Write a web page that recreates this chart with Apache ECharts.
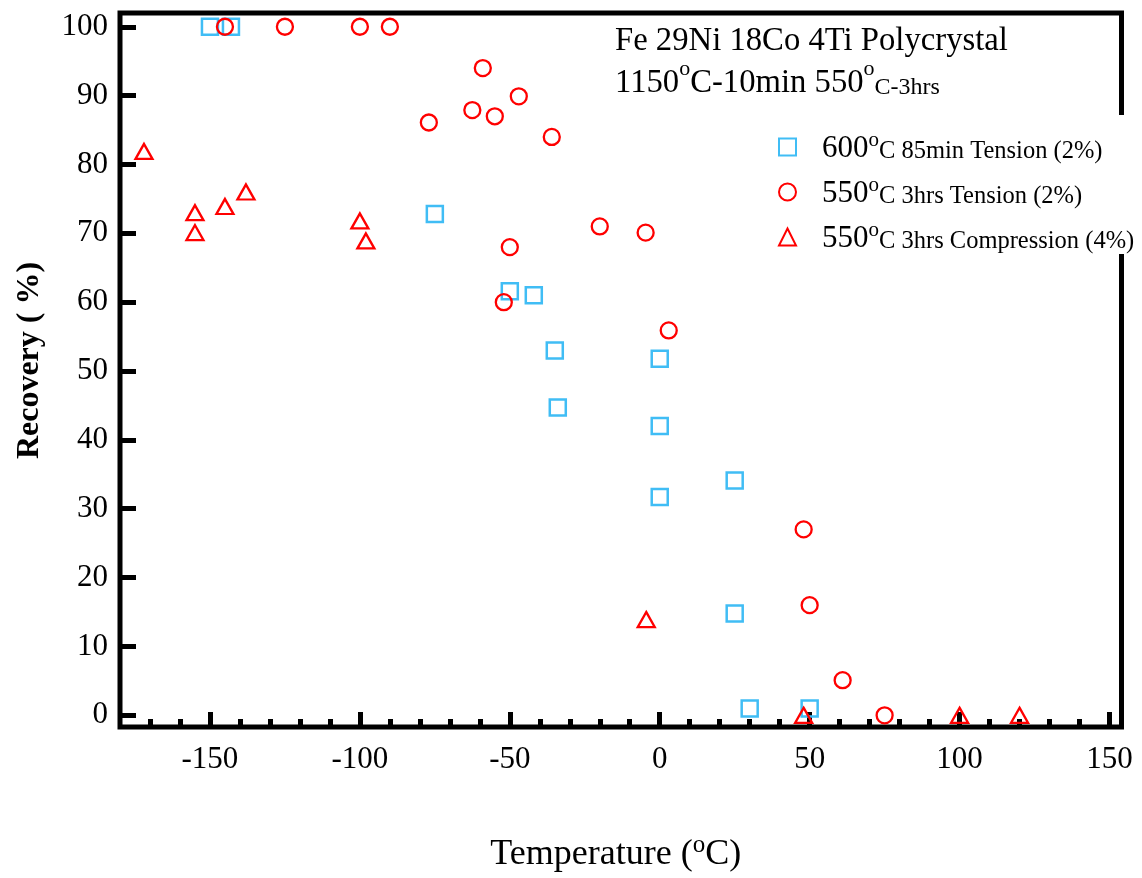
<!DOCTYPE html>
<html>
<head>
<meta charset="utf-8">
<script src="https://cdn.jsdelivr.net/npm/echarts@6/dist/echarts.min.js"></script>
<style>
  html, body { margin: 0; padding: 0; background: #fff; }
  #main { width: 1142px; height: 878px; }
</style>
</head>
<body>
<div id="main"></div>
<script>
// 600C 85min tension (squares)
var sqTemp = [-150, -143, -75, -50, -42, -35, -34, 0, 0, 0, 25, 25, 30, 50];
var sqRec  = [100, 100, 72.8, 61.6, 61, 53, 44.7, 51.8, 42, 31.7, 34.1, 14.8, 1, 1];
// 550C 3hrs tension (circles)
var ciTemp = [-145, -125, -100, -90, -59, -47, -62.5, -55, -77, -36, -20, -4.7, -50, -52, 3, 48, 50, 61, 75];
var ciRec  = [100, 100, 100, 100, 94, 89.9, 87.9, 87, 86.1, 84, 71, 70.1, 68, 60, 55.9, 27, 16, 5.1, 0];
// 550C 3hrs compression (triangles)
var trTemp = [-172, -155, -155, -145, -138, -100, -98, -4.5, 48, 100, 120];
var trRec  = [81.9, 73, 70.1, 73.9, 76, 71.8, 68.9, 13.9, 0, 0, 0];

var xMajor = [-150, -100, -50, 0, 50, 100, 150];
var xMinor = [-170, -160, -140, -130, -120, -110, -90, -80, -70, -60, -40, -30, -20, -10,
              10, 20, 30, 40, 60, 70, 80, 90, 110, 120, 130, 140];
var yTicks = [0, 10, 20, 30, 40, 50, 60, 70, 80, 90, 100];

// legend label parts: big number, small rest
var legendNum  = ['600', '550', '550'];
var legendRest = ['C 85min Tension (2%)', 'C 3hrs Tension (2%)', 'C 3hrs Compression (4%)'];
var seriesNames = ['s600t', 's550t', 's550c'];

function pairs(xs, ys) {
    var out = [];
    for (var i = 0; i < xs.length; i++) out.push([xs[i], ys[i]]);
    return out;
}

var serif = 'Liberation Serif';
var blue = '#40bdf5';
var red = '#ff0000';

var chart = echarts.init(document.getElementById('main'));
var option = {
    backgroundColor: '#fff',
    animation: false,
    textStyle: { fontFamily: serif, color: '#000' },
    grid: {
        left: 120, right: 20.5, top: 13, bottom: 148,
        show: true, borderColor: '#000', borderWidth: 5, backgroundColor: 'transparent'
    },
    title: {
        left: 615, top: 16, padding: 0,
        text: '{a|Fe 29Ni 18Co 4Ti Polycrystal}\n{a|1150}{s|o}{a|C-10min 550}{s|o}{b|C-3hrs}',
        textStyle: {
            fontFamily: serif, fontWeight: 'normal', color: '#000',
            rich: {
                a: { fontFamily: serif, fontSize: 32.7, lineHeight: 42, verticalAlign: 'bottom', color: '#000' },
                s: { fontFamily: serif, fontSize: 22, lineHeight: 20, verticalAlign: 'top', color: '#000' },
                b: { fontFamily: serif, fontSize: 24, lineHeight: 36.6, verticalAlign: 'bottom', color: '#000' }
            }
        }
    },
    legend: {
        orient: 'vertical',
        left: 774, top: 115,
        padding: [15, 4, 0, 4],
        backgroundColor: '#fff',
        itemWidth: 17, itemHeight: 17, itemGap: 11,
        data: seriesNames,
        formatter: function (name) {
            var i = seriesNames.indexOf(name);
            return '{g| }{n|' + legendNum[i] + '}{s|o}{t|' + legendRest[i] + '}';
        },
        textStyle: {
            fontFamily: serif, color: '#000',
            rich: {
                g: { width: 21, fontSize: 10, lineHeight: 34 },
                n: { fontFamily: serif, fontSize: 31, lineHeight: 34, verticalAlign: 'bottom', color: '#000' },
                s: { fontFamily: serif, fontSize: 21, lineHeight: 17, verticalAlign: 'top', color: '#000' },
                t: { fontFamily: serif, fontSize: 24.5, lineHeight: 29.6, verticalAlign: 'bottom', color: '#000' }
            }
        }
    },
    xAxis: [{
        type: 'value', min: -180, max: 154,
        splitLine: { show: false },
        axisLine: { show: false, onZero: false },
        axisTick: { inside: true, length: 15, lineStyle: { color: '#000', width: 5 }, customValues: xMajor },
        axisLabel: { fontFamily: serif, fontSize: 31, color: '#000', margin: 17, customValues: xMajor },
        name: '{m|Temperature (}{s|o}{m|C)}',
        nameLocation: 'middle', nameGap: 106,
        nameTextStyle: {
            padding: [0, 10, 0, 0],
            rich: {
                m: { fontFamily: serif, fontSize: 36, lineHeight: 40, verticalAlign: 'bottom', color: '#000' },
                s: { fontFamily: serif, fontSize: 25, lineHeight: 22, verticalAlign: 'top', color: '#000' }
            }
        }
    }, {
        type: 'value', min: -180, max: 154, position: 'bottom',
        splitLine: { show: false },
        axisLine: { show: false, onZero: false },
        axisTick: { inside: true, length: 8, lineStyle: { color: '#000', width: 5 }, customValues: xMinor },
        axisLabel: { show: false }
    }],
    yAxis: {
        type: 'value', min: -1.7, max: 102,
        splitLine: { show: false },
        axisLine: { show: false, onZero: false },
        axisTick: { inside: true, length: 16, lineStyle: { color: '#000', width: 5 }, customValues: yTicks },
        axisLabel: { fontFamily: serif, fontSize: 31, color: '#000', margin: 12, customValues: yTicks },
        name: 'Recovery ( %)',
        nameLocation: 'middle', nameGap: 74,
        nameTextStyle: { fontFamily: serif, fontSize: 32, fontWeight: 'bold', color: '#000', padding: [0, 0, 0, 19] }
    },
    series: [{
        name: seriesNames[0], type: 'scatter', symbol: 'rect', symbolSize: 16,
        itemStyle: { color: 'transparent', borderColor: blue, borderWidth: 2.5, opacity: 1 },
        data: pairs(sqTemp, sqRec)
    }, {
        name: seriesNames[1], type: 'scatter', symbol: 'circle', symbolSize: 16,
        itemStyle: { color: 'transparent', borderColor: red, borderWidth: 2.3, opacity: 1 },
        data: pairs(ciTemp, ciRec)
    }, {
        name: seriesNames[2], type: 'scatter', symbol: 'triangle', symbolSize: [17, 15],
        itemStyle: { color: 'transparent', borderColor: red, borderWidth: 2.3, opacity: 1 },
        data: pairs(trTemp, trRec)
    }]
};
chart.setOption(option);
</script>
</body>
</html>
